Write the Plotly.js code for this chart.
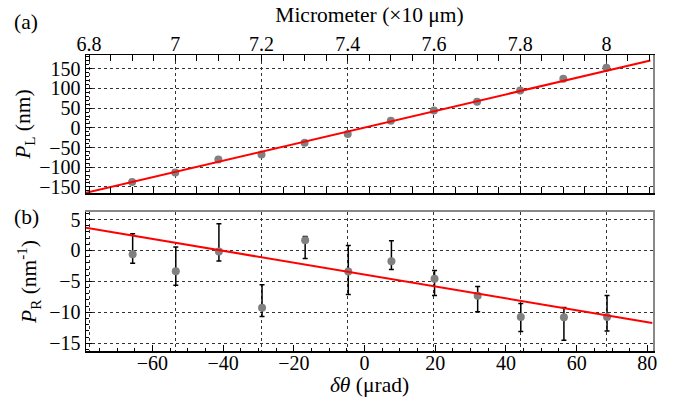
<!DOCTYPE html>
<html><head><meta charset="utf-8">
<script src="https://cdn.plot.ly/plotly-3.0.1.min.js"></script>
<style>html,body{margin:0;padding:0;background:#fff}</style>
</head><body>
<div id="chart" style="width:673px;height:398px"></div>
<script>
// ---- Panel (a): P_L vs micrometer reading ----
const micrometer = [6.9, 7.0, 7.1, 7.2, 7.3, 7.4, 7.5, 7.6, 7.7, 7.8, 7.9, 8.0];
const pL = [-137.3, -113.5, -80.6, -67.9, -37.5, -15.7, 18.2, 44.3, 66.4, 95.0, 124.7, 152.5];
const pLErr = [3, 3, 4, 3, 2, 4, 3, 3, 2, 3, 2, 3];
const fitLX = [6.793, 8.102];
const fitLY = [-165, 171];

// ---- Panel (b): P_R vs delta theta ----
const dTheta = [-65.6, -53.4, -41.2, -29.0, -16.8, -4.6, 7.6, 19.8, 32.0, 44.2, 56.4, 68.6];
const pR = [-0.6, -3.34, -0.17, -9.25, 1.66, -3.4, -1.73, -4.57, -7.32, -10.76, -10.8, -10.76];
const pRErrPlus = [3.3, 3.9, 4.5, 3.7, 0.6, 4.2, 3.3, 1.35, 1.5, 2.2, 1.6, 3.5];
const pRErrMinus = [1.45, 2.3, 1.55, 1.4, 2.95, 3.7, 1.35, 2.7, 2.6, 2.35, 3.7, 2.25];
const fitRX = [-78.8, 81.4];
const fitRY = [3.65, -11.7];

// ---- Axis tick settings ----
const microTicks = {tick0: 6.8, dtick: 0.2};
const thetaTicks = {tick0: 0, dtick: 20};

const FONT = '"Liberation Serif"';
const markerStyle = {color: '#808080', size: 8};
const gridStyle = {showgrid: true, gridcolor: '#333', griddash: 'dot', gridwidth: 1};
const tf = {family: FONT, size: 20, color: '#000'};
const titleFont = {family: FONT, size: 21.5, color: '#000'};

const traces = [
  {x: micrometer, y: pL, xaxis: 'x2', yaxis: 'y', mode: 'markers', type: 'scatter',
   marker: markerStyle,
   error_y: {type: 'data', array: pLErr, visible: true, color: '#000', thickness: 1.5, width: 2.5}},
  {x: fitLX, y: fitLY, xaxis: 'x2', yaxis: 'y', mode: 'lines', type: 'scatter',
   line: {color: '#ff0000', width: 2}},
  {x: dTheta, y: pR, xaxis: 'x', yaxis: 'y2', mode: 'markers', type: 'scatter',
   marker: markerStyle,
   error_y: {type: 'data', symmetric: false, array: pRErrPlus, arrayminus: pRErrMinus,
             visible: true, color: '#000', thickness: 1.5, width: 2.5}},
  {x: fitRX, y: fitRY, xaxis: 'x', yaxis: 'y2', mode: 'lines', type: 'scatter',
   line: {color: '#ff0000', width: 2}},
  {x: [], y: [], xaxis: 'x3', yaxis: 'y2', type: 'scatter', mode: 'markers', hoverinfo: 'skip'},
  {x: [], y: [], xaxis: 'x2', yaxis: 'y3', type: 'scatter', mode: 'markers', hoverinfo: 'skip'},
  {x: [], y: [], xaxis: 'x', yaxis: 'y4', type: 'scatter', mode: 'markers', hoverinfo: 'skip'}
];

const microRange = [6.793, 8.108];
const layout = {
  width: 673, height: 398,
  margin: {l: 86, r: 20, t: 55, b: 47},
  showlegend: false,
  paper_bgcolor: '#fff', plot_bgcolor: '#fff',
  font: tf,
  xaxis2: Object.assign({
    domain: [0, 1], anchor: 'y', side: 'top', range: microRange,
    tickmode: 'linear', tick0: microTicks.tick0, dtick: microTicks.dtick,
    ticks: 'inside', ticklen: 6, tickcolor: '#000', tickwidth: 1,
    minor: {ticks: 'inside', ticklen: 3, dtick: 0.05, tick0: 6.8, tickcolor: '#000', showgrid: false},
    showline: true, linecolor: '#000', linewidth: 1.5, mirror: 'allticks',
    zeroline: false, tickfont: tf, ticklabelstandoff: -5,
    title: {text: 'Micrometer (×10 μm)', font: titleFont, standoff: 4}
  }, gridStyle),
  yaxis: Object.assign({
    domain: [0.533, 1], anchor: 'x2', range: [-166, 185],
    tickmode: 'linear', tick0: 0, dtick: 50,
    ticks: 'inside', ticklen: 6, tickcolor: '#000',
    minor: {ticks: 'inside', ticklen: 3, dtick: 10, tickcolor: '#000', showgrid: false},
    showline: true, linecolor: '#000', linewidth: 1.5,
    zeroline: false, tickfont: tf,
    title: {text: '<i>P</i><sub>L</sub> (nm)', font: titleFont, standoff: 2}
  }, gridStyle),
  yaxis3: {overlaying: 'y', anchor: 'x2', side: 'right', range: [-166, 185],
    showline: true, linecolor: '#888', linewidth: 2, showticklabels: false, ticks: '',
    showgrid: false, zeroline: false},
  xaxis: {
    domain: [0, 1], anchor: 'y2', range: [-78.8, 81.6],
    tickmode: 'linear', tick0: thetaTicks.tick0, dtick: thetaTicks.dtick,
    ticks: 'inside', ticklen: 6, tickcolor: '#000',
    minor: {ticks: 'inside', ticklen: 3, dtick: 5, tickcolor: '#000', showgrid: false},
    showline: true, linecolor: '#000', linewidth: 1.5,
    showgrid: false, zeroline: false, tickfont: tf, ticklabelstandoff: -7,
    title: {text: '<i>δθ</i> (μrad)', font: titleFont, standoff: 4}
  },
  xaxis3: Object.assign({
    overlaying: 'x', anchor: 'y2', side: 'top', range: microRange,
    tickmode: 'linear', tick0: microTicks.tick0, dtick: microTicks.dtick,
    showticklabels: false, ticks: '',
    showline: true, linecolor: '#888', linewidth: 2, zeroline: false
  }, gridStyle),
  yaxis2: Object.assign({
    domain: [0, 0.47], anchor: 'x', range: [-16.24, 6.23],
    tickmode: 'linear', tick0: 0, dtick: 5,
    ticks: 'inside', ticklen: 6, tickcolor: '#000',
    minor: {ticks: 'inside', ticklen: 3, dtick: 1, tickcolor: '#000', showgrid: false},
    showline: true, linecolor: '#000', linewidth: 1.5,
    zeroline: false, tickfont: tf,
    title: {text: '<i>P</i><sub>R</sub> (nm<sup>-1</sup>)', font: titleFont, standoff: 6}
  }, gridStyle),
  yaxis4: {overlaying: 'y2', anchor: 'x', side: 'right', range: [-16.24, 6.23],
    showline: true, linecolor: '#888', linewidth: 2, showticklabels: false, ticks: '',
    showgrid: false, zeroline: false},
  annotations: [
    {text: '(a)', xref: 'paper', yref: 'paper', x: -0.1058, y: 1.111,
     xanchor: 'center', yanchor: 'middle', showarrow: false, font: titleFont},
    {text: '(b)', xref: 'paper', yref: 'paper', x: -0.1049, y: 0.454,
     xanchor: 'center', yanchor: 'middle', showarrow: false, font: titleFont}
  ]
};

Plotly.newPlot('chart', traces, layout, {displayModeBar: false, staticPlot: true});
</script>
</body></html>
